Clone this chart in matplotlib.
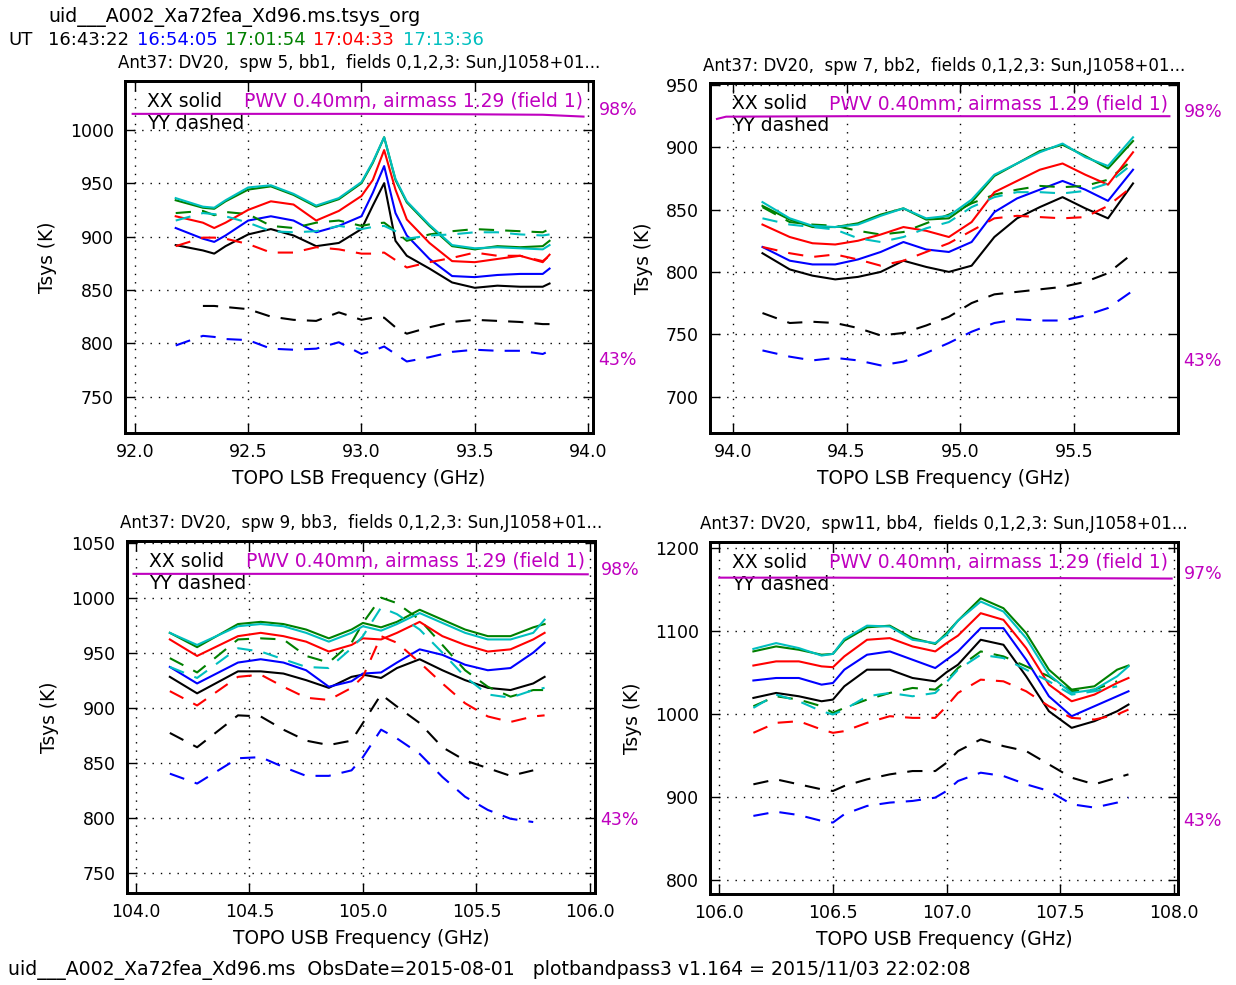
import numpy as np
import matplotlib
matplotlib.use("Agg")
import matplotlib.pyplot as plt
from matplotlib.transforms import blended_transform_factory, offset_copy

nan = np.nan

# scan times (UT) and the colour used for each scan
scan_times = ["16:43:22", "16:54:05", "17:01:54", "17:04:33", "17:13:36"]
scan_colors = ["k", "b", "g", "r", "c"]

# ---- spw 5 / bb1 ----
freq1 = [92.18, 92.3, 92.35, 92.4, 92.5, 92.6, 92.7, 92.8, 92.9, 93.0, 93.05,
         93.1, 93.15, 93.2, 93.3, 93.4, 93.5, 93.6, 93.7, 93.8, 93.83]
xx1 = [
    [892, 887, 884, 891, 902, 907, 901, 891, 894, 907, 929, 950, 896, 882, 870, 857, 852, 854, 853, 853, 856],
    [908, 898, 895, 901, 915, 919, 915, 904, 910, 919, 941, 966, 922, 901, 879, 863, 862, 864, 865, 865, 870],
    [934, 927, 926, 933, 944, 947, 939, 928, 935, 950, 969, 993, 953, 932, 910, 891, 888, 891, 890, 891, 896],
    [919, 913, 908, 913, 925, 933, 930, 915, 924, 938, 953, 981, 944, 916, 894, 877, 876, 879, 882, 876, 883],
    [936, 928, 927, 934, 946, 948, 940, 929, 936, 951, 970, 993, 954, 933, 911, 892, 889, 890, 889, 888, 892],
]
yy1 = [
    [nan, 835, 835, 834, 832, 825, 822, 821, 829, 822, 824, 824, 815, 809, 815, 820, 822, 821, 820, 818, 818],
    [798, 807, 806, 804, 803, 795, 794, 795, 801, 790, 793, 797, 790, 783, 787, 792, 794, 793, 793, 790, 793],
    [922, 924, 920, 923, 921, 910, 908, 913, 915, 910, 912, 913, 905, 896, 902, 905, 907, 906, 905, 904, 907],
    [891, 899, 899, 898, 893, 885, 885, 890, 888, 884, 884, 885, 878, 871, 876, 880, 885, 882, 882, 877, 882],
    [915, 922, 921, 919, 913, 905, 904, 905, 910, 907, 909, 910, 905, 898, 901, 902, 904, 904, 902, 901, 902],
]
atm_freq1 = [91.99, 92.5, 93.0, 93.5, 93.8, 93.98]
atm_trans1 = [98.0, 98.0, 98.0, 97.9, 97.8, 97.4]

# ---- spw 7 / bb2 ----
freq2 = [94.13, 94.25, 94.35, 94.45, 94.55, 94.65, 94.75, 94.85, 94.95, 95.05,
         95.15, 95.25, 95.35, 95.45, 95.55, 95.65, 95.76]
xx2 = [
    [815, 802, 797, 794, 796, 800, 809, 804, 800, 805, 828, 843, 852, 860, 851, 843, 871],
    [820, 809, 806, 806, 810, 816, 824, 818, 816, 824, 848, 859, 866, 873, 866, 857, 882],
    [853, 842, 836, 836, 839, 846, 851, 842, 843, 856, 877, 887, 897, 902, 893, 883, 905],
    [838, 828, 823, 822, 825, 830, 836, 833, 828, 840, 864, 873, 882, 887, 878, 870, 896],
    [856, 843, 837, 836, 838, 845, 851, 843, 845, 858, 878, 887, 896, 903, 892, 885, 908],
]
yy2 = [
    [767, 759, 760, 759, 755, 749, 751, 757, 764, 775, 782, 784, 786, 788, 792, 799, 815],
    [737, 732, 729, 731, 729, 725, 728, 735, 743, 752, 759, 762, 761, 761, 765, 771, 785],
    [852, 840, 838, 837, 833, 830, 832, 839, 846, 855, 862, 866, 869, 868, 869, 874, 890],
    [820, 815, 812, 814, 810, 805, 809, 816, 823, 833, 843, 845, 844, 843, 844, 853, 869],
    [843, 838, 836, 834, 827, 824, 828, 835, 840, 852, 860, 864, 864, 863, 865, 871, 887],
]
atm_freq2 = [93.93, 93.97, 94.5, 95.0, 95.5, 95.92]
atm_trans2 = [97.4, 97.9, 98.0, 98.0, 98.0, 98.0]

# ---- spw 9 / bb3 ----
freq3 = [104.15, 104.27, 104.45, 104.55, 104.65, 104.75, 104.85, 104.95, 105.0,
         105.08, 105.15, 105.25, 105.35, 105.45, 105.55, 105.65, 105.75, 105.8]
xx3 = [
    [928, 913, 933, 933, 931, 925, 918, 928, 930, 927, 936, 944, 934, 925, 918, 916, 922, 928],
    [937, 922, 941, 944, 941, 934, 919, 924, 931, 932, 941, 953, 948, 939, 934, 936, 950, 959],
    [968, 955, 976, 978, 976, 971, 963, 971, 977, 973, 978, 989, 980, 971, 965, 965, 973, 976],
    [962, 947, 965, 968, 965, 960, 951, 957, 963, 962, 968, 978, 965, 957, 951, 953, 962, 968],
    [968, 957, 974, 976, 974, 968, 960, 968, 974, 970, 976, 986, 977, 968, 962, 962, 968, 980],
]
yy3 = [
    [877, 864, 893, 892, 880, 870, 866, 870, 886, 912, 901, 886, 864, 852, 845, 838, 843, nan],
    [840, 831, 854, 855, 846, 838, 838, 843, 855, 880, 872, 858, 837, 819, 807, 799, 796, nan],
    [945, 932, 962, 963, 962, 947, 941, 959, 977, 1000, 995, 980, 957, 934, 919, 910, 916, 916],
    [915, 902, 928, 930, 919, 909, 907, 918, 928, 965, 959, 941, 922, 904, 892, 887, 892, 893],
    [937, 927, 954, 951, 944, 937, 936, 954, 965, 991, 985, 971, 950, 928, 912, 909, 916, 918],
]
atm_freq3 = [103.99, 104.5, 105.0, 105.5, 105.99]
atm_trans3 = [98.0, 98.0, 98.0, 98.0, 97.9]

# ---- spw 11 / bb4 ----
freq4 = [106.15, 106.25, 106.35, 106.45, 106.5, 106.55, 106.65, 106.75, 106.85, 106.95,
         107.0, 107.05, 107.15, 107.25, 107.35, 107.45, 107.55, 107.65, 107.75, 107.8]
xx4 = [
    [1019, 1025, 1021, 1015, 1017, 1033, 1053, 1053, 1043, 1039, 1050, 1059, 1089, 1083, 1045, 1003, 983, 991, 1003, 1011],
    [1040, 1043, 1043, 1035, 1037, 1053, 1071, 1075, 1065, 1055, 1065, 1075, 1103, 1103, 1065, 1021, 997, 1009, 1021, 1027],
    [1075, 1081, 1077, 1071, 1072, 1088, 1104, 1106, 1091, 1084, 1097, 1112, 1139, 1127, 1097, 1053, 1029, 1033, 1053, 1058],
    [1058, 1063, 1063, 1057, 1056, 1069, 1089, 1091, 1081, 1075, 1085, 1094, 1121, 1113, 1079, 1035, 1015, 1023, 1037, 1043],
    [1078, 1085, 1079, 1070, 1072, 1090, 1106, 1105, 1089, 1085, 1095, 1112, 1135, 1123, 1091, 1047, 1025, 1029, 1045, 1057],
]
yy4 = [
    [915, 921, 915, 909, 907, 913, 921, 927, 931, 931, 941, 955, 969, 961, 955, 939, 923, 915, 923, 927],
    [877, 882, 878, 871, 869, 879, 889, 893, 895, 899, 907, 919, 929, 925, 915, 907, 891, 887, 893, 899],
    [1009, 1021, 1017, 1009, 1001, 1007, 1017, 1025, 1031, 1029, 1040, 1055, 1075, 1069, 1057, 1045, 1027, 1029, 1039, nan],
    [977, 989, 991, 981, 977, 979, 989, 997, 995, 995, 1009, 1025, 1041, 1039, 1027, 1009, 995, 993, 999, 1005],
    [1007, 1023, 1015, 1003, 999, 1005, 1021, 1025, 1021, 1025, 1038, 1053, 1071, 1067, 1053, 1039, 1023, 1027, 1033, nan],
]
atm_freq4 = [106.0, 106.5, 107.0, 107.5, 107.99]
atm_trans4 = [97.4, 97.4, 97.3, 97.3, 97.2]

panel_titles = [
    "Ant37: DV20,  spw 5, bb1,  fields 0,1,2,3: Sun,J1058+01...",
    "Ant37: DV20,  spw 7, bb2,  fields 0,1,2,3: Sun,J1058+01...",
    "Ant37: DV20,  spw 9, bb3,  fields 0,1,2,3: Sun,J1058+01...",
    "Ant37: DV20,  spw11, bb4,  fields 0,1,2,3: Sun,J1058+01...",
]
xlabels = ["TOPO LSB Frequency (GHz)", "TOPO LSB Frequency (GHz)",
           "TOPO USB Frequency (GHz)", "TOPO USB Frequency (GHz)"]
xlims = [(91.956, 94.022), (93.899, 95.958), (103.96, 106.022), (105.959, 108.018)]
ylims = [(716, 1046), (670.5, 951.4), (731.5, 1051.8), (783, 1207)]
yticks = [np.arange(750, 1001, 50), np.arange(700, 951, 50),
          np.arange(750, 1051, 50), np.arange(800, 1201, 100)]
xticks = [np.arange(92.0, 94.01, 0.5), np.arange(94.0, 95.51, 0.5),
          np.arange(104.0, 106.01, 0.5), np.arange(106.0, 108.01, 0.5)]
pwv_label = "PWV 0.40mm, airmass 1.29 (field 1)"
trans_lo = 43

panels = [
    (freq1, xx1, yy1, atm_freq1, atm_trans1),
    (freq2, xx2, yy2, atm_freq2, atm_trans2),
    (freq3, xx3, yy3, atm_freq3, atm_trans3),
    (freq4, xx4, yy4, atm_freq4, atm_trans4),
]

plt.rcParams.update({
    "font.family": "DejaVu Sans",
    "lines.scale_dashes": False,
    "axes.linewidth": 2.0,
    "xtick.direction": "in",
    "ytick.direction": "in",
    "xtick.top": True,
    "ytick.right": True,
    "xtick.major.size": 7,
    "ytick.major.size": 7,
    "xtick.major.width": 1.0,
    "ytick.major.width": 1.0,
    "xtick.major.pad": 7,
    "ytick.major.pad": 8,
    "xtick.labelsize": 12.5,
    "ytick.labelsize": 12.5,
})

fig = plt.figure(figsize=(12.36, 9.85), dpi=100)

# axes boxes: [left, bottom, width, height]
boxes = [
    [0.1011, 0.5604, 0.3787, 0.3577],
    [0.5744, 0.5601, 0.3787, 0.3554],
    [0.1025, 0.0934, 0.3789, 0.3577],
    [0.5744, 0.0924, 0.3787, 0.3576],
]

for i, (freq, xx, yy, atm_f, atm_t) in enumerate(panels):
    ax = fig.add_axes(boxes[i])
    for k in range(len(scan_colors)):
        ax.plot(freq, xx[k], color=scan_colors[k], lw=1.5, linestyle="-")
        ax.plot(freq, yy[k], color=scan_colors[k], lw=1.5, linestyle=(0, (11, 8)))
    ax.set_xlim(*xlims[i])
    ax.set_ylim(*ylims[i])
    ax.set_xticks(xticks[i])
    ax.set_yticks(yticks[i])
    ax.set_xticklabels(["%.1f" % v for v in xticks[i]])
    ax.grid(True, color="k", linestyle=(0, (1, 5)), linewidth=1.0)
    ax.set_title(panel_titles[i], fontsize=12, pad=9)
    ax.set_xlabel(xlabels[i], fontsize=13.4, labelpad=6)
    ax.set_ylabel("Tsys (K)", fontsize=13.4, labelpad=9)

    ax.text(0.048, 0.942, "XX solid", transform=ax.transAxes, fontsize=13.5,
            ha="left", va="center")
    ax.text(0.048, 0.879, "YY dashed", transform=ax.transAxes, fontsize=13.5,
            ha="left", va="center")
    ax.text(0.979, 0.942, pwv_label, transform=ax.transAxes, fontsize=13.5,
            color="m", ha="right", va="center")

    # atmospheric transmission on its own percentage scale
    ax2 = ax.twinx()
    ax2.plot(atm_f, atm_t, color="m", lw=1.5)
    ax2.set_ylim(27.8, 105.3)
    ax2.set_yticks([])
    ax2.set_xlim(*xlims[i])
    ax.tick_params(right=True, top=True)
    tr = offset_copy(blended_transform_factory(ax2.transAxes, ax2.transData),
                     fig=fig, y=-3.5, units="points")
    t_hi = max(atm_t)
    ax2.text(1.012, t_hi, "%d%%" % round(t_hi), transform=tr, color="m",
             fontsize=12.5, ha="left", va="bottom")
    ax2.text(1.012, trans_lo, "%d%%" % trans_lo, transform=tr, color="m",
             fontsize=12.5, ha="left", va="bottom")

# header: dataset name and scan times
fig.text(0.0388, 0.9827, "uid___A002_Xa72fea_Xd96.ms.tsys_org", fontsize=13.6,
         ha="left", va="center")
fig.text(0.0065, 0.9594, "UT", fontsize=13, ha="left", va="center")
time_x = [0.0388, 0.1108, 0.182, 0.2532, 0.326]
for tx, t, c in zip(time_x, scan_times, scan_colors):
    fig.text(tx, 0.9594, t, fontsize=13, color=c, ha="left", va="center")

fig.text(0.0065, 0.0152,
         "uid___A002_Xa72fea_Xd96.ms  ObsDate=2015-08-01   plotbandpass3 v1.164 = 2015/11/03 22:02:08",
         fontsize=13.6, ha="left", va="center")

fig.savefig("out.png", dpi=100)
